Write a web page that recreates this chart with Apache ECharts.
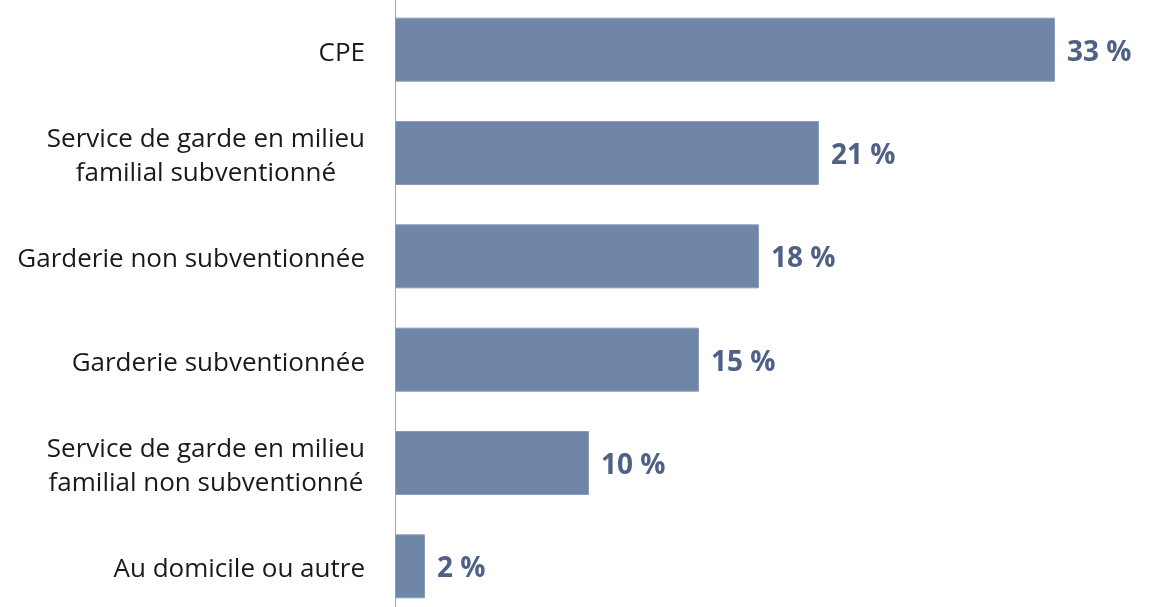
<!DOCTYPE html>
<html>
<head>
<meta charset="utf-8">
<script src="https://cdn.jsdelivr.net/npm/echarts@6/dist/echarts.min.js"></script>
<style>
  html, body { margin: 0; padding: 0; background: #fff; }
  #graphique { width: 1160px; height: 607px; }
</style>
</head>
<body>
<div id="graphique"></div>
<script>
// Types de garde (haut -> bas)
const categories = [
  'CPE',
  'Service de garde en milieu\nfamilial subventionné',
  'Garderie non subventionnée',
  'Garderie subventionnée',
  'Service de garde en milieu\nfamilial non subventionné',
  'Au domicile ou autre'
];
// Pourcentages estimés à partir de la longueur des barres
const valeurs = [33, 21.2, 18.2, 15.2, 9.7, 1.5];

const couleurBarre = '#7086A8';
const couleurEtiquette = '#4F6185';
const police = '"Open Sans", Lato, sans-serif';

const graphique = echarts.init(document.getElementById('graphique'));

const option = {
  animation: false,
  grid: { left: 395, top: -2, width: 760, height: 620, outerBoundsMode: 'none' },
  xAxis: {
    type: 'value',
    min: 0,
    max: 38,
    show: false,
    splitLine: { show: false }
  },
  yAxis: {
    type: 'category',
    inverse: true,
    data: categories,
    axisLine: { show: true, lineStyle: { color: '#A6A6A6', width: 1 } },
    axisTick: { show: false },
    axisLabel: {
      margin: 30,
      padding: [7, 0, 0, 0],
      formatter: v => v.split('\n').map(l => '{c|' + l + '}').join('\n'),
      rich: {
        c: {
          align: 'center',
          fontFamily: police,
          fontSize: 26,
          lineHeight: 34,
          color: '#1a1a1a'
        }
      }
    }
  },
  series: [{
    type: 'bar',
    data: valeurs,
    barWidth: 64,
    itemStyle: { color: couleurBarre, borderColor: '#8A9DBB', borderWidth: 1 },
    label: {
      show: true,
      position: 'right',
      distance: 12,
      offset: [0, 3],
      formatter: p => Math.round(p.value) + ' %',
      fontFamily: police,
      fontWeight: 'bold',
      fontSize: 28,
      color: couleurEtiquette
    }
  }]
};

graphique.setOption(option);
</script>
</body>
</html>
